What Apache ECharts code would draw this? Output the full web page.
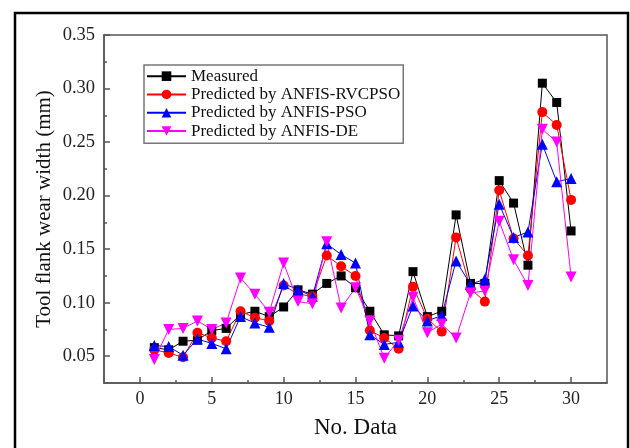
<!DOCTYPE html>
<html>
<head>
<meta charset="utf-8">
<script src="https://cdn.jsdelivr.net/npm/echarts@6/dist/echarts.min.js"></script>
<style>
  html, body { margin: 0; padding: 0; background: #fff; }
  #chart { width: 630px; height: 448px; }
</style>
</head>
<body>
<div id="chart"></div>
<script>
// sample numbers
var dataNo = [1, 2, 3, 4, 5, 6, 7, 8, 9, 10, 11, 12, 13, 14, 15, 16, 17, 18, 19, 20, 21, 22, 23, 24, 25, 26, 27, 28, 29, 30]

var measured = [0.058, 0.056, 0.064, 0.065, 0.074, 0.076, 0.089, 0.092, 0.087, 0.096, 0.112, 0.108, 0.118, 0.125, 0.114,
  0.092, 0.070, 0.069, 0.129, 0.087, 0.092, 0.182, 0.118, 0.118, 0.214, 0.193, 0.135, 0.305, 0.287, 0.167]
var rvcpso = [0.056, 0.053, 0.049, 0.072, 0.067, 0.064, 0.092, 0.086, 0.083, 0.116, 0.108, 0.106, 0.144, 0.134, 0.125,
  0.074, 0.067, 0.057, 0.115, 0.085, 0.073, 0.161, 0.113, 0.101, 0.205, 0.160, 0.144, 0.278, 0.266, 0.196]
var pso = [0.060, 0.059, 0.051, 0.066, 0.062, 0.057, 0.087, 0.081, 0.077, 0.118, 0.112, 0.106, 0.155, 0.145, 0.137,
  0.070, 0.061, 0.063, 0.097, 0.083, 0.088, 0.139, 0.117, 0.122, 0.192, 0.161, 0.166, 0.248, 0.213, 0.216]
var de = [0.047, 0.075, 0.076, 0.083, 0.075, 0.081, 0.123, 0.108, 0.091, 0.137, 0.101, 0.099, 0.157, 0.095, 0.114,
  0.083, 0.048, 0.065, 0.105, 0.072, 0.080, 0.067, 0.109, 0.111, 0.176, 0.140, 0.116, 0.262, 0.250, 0.124]

// axis ranges (frame) and tick ranges
var xFrame = [-2.5, 32.5]
var yFrame = [0.025, 0.35]
var xTickRange = [0, 30]
var yTickRange = [0.05, 0.35]

var serif = '"Liberation Serif", "DejaVu Serif", serif'
var downTriangle = 'path://M0,0 L10,0 L5,9 Z'
var axisColor = '#555'

// plot box in pixels
var box = { left: 104, top: 35, right: 23, bottom: 65 }
var boxW = 630 - box.left - box.right
var boxH = 448 - box.top - box.bottom

// second grid that spans exactly the ticked range, so ticks start at round values
function xPix(v) { return box.left + (v - xFrame[0]) / (xFrame[1] - xFrame[0]) * boxW }
function yPix(v) { return box.top + (yFrame[1] - v) / (yFrame[1] - yFrame[0]) * boxH }
var tickGrid = {
  left: xPix(xTickRange[0]),
  right: 630 - xPix(xTickRange[1]),
  top: yPix(yTickRange[1]),
  bottom: 448 - yPix(yTickRange[0])
}

function pairs(values) {
  return dataNo.map(function (n, i) { return [n, values[i]] })
}

function lineSeries(name, values, color, symbol, size) {
  return {
    name: name,
    type: 'line',
    data: pairs(values),
    symbol: symbol,
    symbolSize: size,
    showSymbol: true,
    lineStyle: { color: color, width: 1 },
    itemStyle: { color: color, borderWidth: 0 },
    emphasis: { disabled: true },
    z: 3
  }
}

var chart = echarts.init(document.getElementById('chart'))

chart.setOption({
  backgroundColor: '#fff',
  animation: false,
  grid: [{
    left: box.left,
    top: box.top,
    right: box.right,
    bottom: box.bottom,
    show: true,
    borderColor: axisColor,
    borderWidth: 1.5,
    backgroundColor: 'transparent'
  }, {
    left: tickGrid.left,
    right: tickGrid.right,
    top: tickGrid.top,
    bottom: tickGrid.bottom
  }],
  legend: {
    left: 144,
    top: 65,
    orient: 'vertical',
    itemWidth: 39,
    itemHeight: 12,
    itemGap: 0,
    itemTextGap: 5,
    padding: [2, 3, 3, 2],
    borderColor: '#777',
    borderWidth: 1.5,
    textStyle: {
      fontFamily: serif,
      fontSize: 17,
      lineHeight: 18.3,
      color: '#111'
    },
    data: ['Measured', 'Predicted by ANFIS-RVCPSO', 'Predicted by ANFIS-PSO', 'Predicted by ANFIS-DE']
  },
  graphic: [{
    type: 'rect',
    shape: { x: 15, y: 13, width: 613, height: 460 },
    style: { fill: 'none', stroke: '#000', lineWidth: 2.5 },
    z: 10
  }],
  xAxis: [{
    gridIndex: 0,
    type: 'value',
    min: xFrame[0],
    max: xFrame[1],
    name: 'No. Data',
    nameLocation: 'middle',
    nameGap: 33,
    nameTextStyle: { fontFamily: serif, fontSize: 23, color: '#111' },
    axisLine: { onZero: false, lineStyle: { color: axisColor, width: 1.5 } },
    axisTick: { show: false },
    axisLabel: { show: false },
    splitLine: { show: false }
  }, {
    gridIndex: 1,
    type: 'value',
    min: xTickRange[0],
    max: xTickRange[1],
    interval: 5,
    position: 'bottom',
    offset: 448 - box.bottom - yPix(yTickRange[0]),
    axisLine: { show: false, onZero: false },
    axisTick: { show: true, inside: true, length: 6, lineStyle: { color: axisColor, width: 1.5 } },
    minorTick: { show: true, splitNumber: 2, length: 3, lineStyle: { color: axisColor, width: 1.5 } },
    axisLabel: {
      margin: 7,
      fontFamily: serif,
      fontSize: 18,
      color: '#222'
    },
    splitLine: { show: false }
  }],
  yAxis: [{
    gridIndex: 0,
    type: 'value',
    min: yFrame[0],
    max: yFrame[1],
    name: 'Tool flank wear width (mm)',
    nameLocation: 'middle',
    nameGap: 49,
    nameTextStyle: { fontFamily: serif, fontSize: 21, color: '#111' },
    axisLine: { show: true, onZero: false, lineStyle: { color: axisColor, width: 1.5 } },
    axisTick: { show: false },
    axisLabel: { show: false },
    splitLine: { show: false }
  }, {
    gridIndex: 1,
    type: 'value',
    min: yTickRange[0],
    max: yTickRange[1],
    interval: 0.05,
    position: 'left',
    offset: tickGrid.left - box.left,
    axisLine: { show: false, onZero: false },
    axisTick: { show: true, inside: true, length: 6, lineStyle: { color: axisColor, width: 1.5 } },
    minorTick: { show: true, splitNumber: 2, length: 3, lineStyle: { color: axisColor, width: 1.5 } },
    axisLabel: {
      margin: 9,
      fontFamily: serif,
      fontSize: 18.5,
      color: '#222',
      formatter: function (v) { return v.toFixed(2) }
    },
    splitLine: { show: false }
  }],
  series: [
    lineSeries('Measured', measured, '#000000', 'rect', 9),
    lineSeries('Predicted by ANFIS-RVCPSO', rvcpso, '#ff0000', 'circle', 10),
    lineSeries('Predicted by ANFIS-PSO', pso, '#0000ff', 'triangle', 11),
    lineSeries('Predicted by ANFIS-DE', de, '#ff00ff', downTriangle, 11)
  ]
})
</script>
</body>
</html>
